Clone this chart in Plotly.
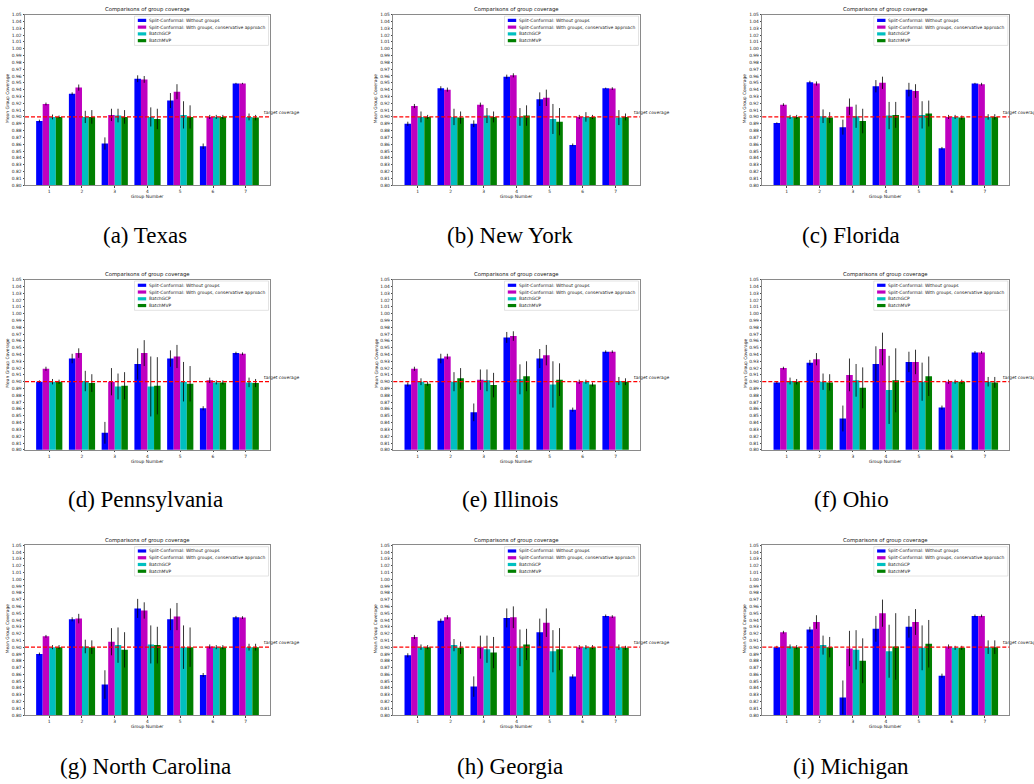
import plotly.graph_objects as go

# ---- data -----------------------------------------------------------------
groups = [1, 2, 3, 4, 5, 6, 7]
methods = [
    "Split-Conformal: Without groups",
    "Split-Conformal: With groups, conservative approach",
    "BatchGCP",
    "BatchMVP",
]
method_colors = ["#0000ff", "#bf00bf", "#00bfbf", "#008000"]
target = 0.90

# rows: methods (in the order above); columns: groups 1..7
tx_mean = [[0.894, 0.934, 0.861, 0.956, 0.924, 0.857, 0.949],
           [0.919, 0.943, 0.903, 0.955, 0.937, 0.900, 0.949],
           [0.900, 0.900, 0.902, 0.900, 0.903, 0.900, 0.900],
           [0.900, 0.900, 0.900, 0.897, 0.900, 0.900, 0.899]]
tx_err = [[0.002, 0.002, 0.009, 0.005, 0.011, 0.004, 0.001],
          [0.002, 0.0045, 0.009, 0.005, 0.011, 0.003, 0.001],
          [0.0035, 0.009, 0.010, 0.014, 0.020, 0.003, 0.005],
          [0.002, 0.010, 0.010, 0.015, 0.017, 0.003, 0.004]]

ny_mean = [[0.890, 0.942, 0.890, 0.959, 0.926, 0.859, 0.942],
           [0.916, 0.940, 0.918, 0.961, 0.928, 0.900, 0.9415],
           [0.900, 0.900, 0.902, 0.900, 0.897, 0.900, 0.899],
           [0.900, 0.899, 0.900, 0.902, 0.893, 0.900, 0.900]]
ny_err = [[0.003, 0.003, 0.005, 0.003, 0.010, 0.002, 0.001],
          [0.003, 0.003, 0.003, 0.003, 0.012, 0.003, 0.002],
          [0.008, 0.012, 0.011, 0.013, 0.022, 0.007, 0.011],
          [0.003, 0.009, 0.008, 0.015, 0.020, 0.003, 0.005]]

fl_mean = [[0.891, 0.951, 0.885, 0.945, 0.940, 0.854, 0.949],
           [0.918, 0.949, 0.915, 0.950, 0.938, 0.900, 0.948],
           [0.900, 0.901, 0.901, 0.902, 0.903, 0.900, 0.900],
           [0.900, 0.899, 0.894, 0.903, 0.905, 0.899, 0.900]]
fl_err = [[0.001, 0.002, 0.011, 0.009, 0.010, 0.002, 0.001],
          [0.002, 0.003, 0.012, 0.009, 0.010, 0.003, 0.002],
          [0.003, 0.010, 0.017, 0.020, 0.020, 0.003, 0.004],
          [0.003, 0.008, 0.018, 0.019, 0.019, 0.003, 0.004]]

pa_mean = [[0.900, 0.934, 0.825, 0.926, 0.934, 0.861, 0.942],
           [0.919, 0.942, 0.900, 0.942, 0.937, 0.902, 0.941],
           [0.900, 0.901, 0.893, 0.893, 0.900, 0.899, 0.899],
           [0.900, 0.898, 0.894, 0.894, 0.897, 0.899, 0.898]]
pa_err = [[0.002, 0.007, 0.016, 0.023, 0.012, 0.003, 0.002],
          [0.003, 0.007, 0.020, 0.019, 0.017, 0.004, 0.002],
          [0.004, 0.015, 0.019, 0.044, 0.029, 0.003, 0.007],
          [0.003, 0.013, 0.020, 0.042, 0.026, 0.003, 0.006]]

il_mean = [[0.896, 0.934, 0.855, 0.965, 0.934, 0.859, 0.944],
           [0.919, 0.937, 0.903, 0.967, 0.939, 0.900, 0.944],
           [0.900, 0.900, 0.902, 0.9035, 0.896, 0.900, 0.901],
           [0.897, 0.905, 0.895, 0.908, 0.903, 0.896, 0.900]]
il_err = [[0.003, 0.007, 0.013, 0.008, 0.014, 0.003, 0.002],
          [0.003, 0.004, 0.015, 0.007, 0.015, 0.003, 0.002],
          [0.005, 0.014, 0.016, 0.022, 0.034, 0.003, 0.006],
          [0.003, 0.015, 0.018, 0.022, 0.024, 0.003, 0.005]]

oh_mean = [[0.899, 0.928, 0.846, 0.926, 0.929, 0.862, 0.943],
           [0.920, 0.933, 0.910, 0.948, 0.929, 0.900, 0.943],
           [0.901, 0.900, 0.902, 0.888, 0.900, 0.900, 0.900],
           [0.900, 0.899, 0.891, 0.902, 0.908, 0.900, 0.899]]
oh_err = [[0.002, 0.004, 0.019, 0.026, 0.015, 0.003, 0.002],
          [0.002, 0.009, 0.024, 0.024, 0.018, 0.003, 0.002],
          [0.005, 0.012, 0.024, 0.050, 0.028, 0.003, 0.007],
          [0.004, 0.012, 0.030, 0.047, 0.029, 0.003, 0.008]]

nc_mean = [[0.890, 0.941, 0.845, 0.957, 0.941, 0.859, 0.944],
           [0.916, 0.942, 0.908, 0.954, 0.945, 0.901, 0.9435],
           [0.900, 0.901, 0.903, 0.904, 0.900, 0.900, 0.900],
           [0.900, 0.900, 0.896, 0.903, 0.900, 0.900, 0.900]]
nc_err = [[0.002, 0.003, 0.021, 0.014, 0.016, 0.003, 0.002],
          [0.002, 0.007, 0.020, 0.012, 0.020, 0.003, 0.002],
          [0.003, 0.010, 0.026, 0.028, 0.032, 0.003, 0.005],
          [0.003, 0.010, 0.026, 0.027, 0.029, 0.003, 0.005]]

ga_mean = [[0.888, 0.939, 0.842, 0.943, 0.922, 0.857, 0.946],
           [0.915, 0.944, 0.900, 0.944, 0.936, 0.900, 0.945],
           [0.900, 0.903, 0.897, 0.899, 0.894, 0.900, 0.900],
           [0.900, 0.899, 0.892, 0.904, 0.897, 0.900, 0.899]]
ga_err = [[0.003, 0.003, 0.015, 0.014, 0.020, 0.003, 0.002],
          [0.003, 0.003, 0.017, 0.016, 0.021, 0.003, 0.002],
          [0.004, 0.009, 0.020, 0.027, 0.031, 0.003, 0.004],
          [0.003, 0.009, 0.023, 0.023, 0.031, 0.003, 0.003]]

mi_mean = [[0.900, 0.926, 0.826, 0.927, 0.930, 0.858, 0.946],
           [0.922, 0.937, 0.898, 0.950, 0.937, 0.901, 0.946],
           [0.901, 0.903, 0.896, 0.894, 0.899, 0.899, 0.900],
           [0.900, 0.900, 0.880, 0.901, 0.905, 0.899, 0.900]]
mi_err = [[0.002, 0.004, 0.025, 0.019, 0.016, 0.003, 0.002],
          [0.002, 0.010, 0.026, 0.020, 0.019, 0.003, 0.002],
          [0.003, 0.014, 0.029, 0.039, 0.033, 0.003, 0.010],
          [0.003, 0.015, 0.033, 0.049, 0.035, 0.003, 0.010]]

captions = ["(a) Texas", "(b) New York", "(c) Florida",
            "(d) Pennsylvania", "(e) Illinois", "(f) Ohio",
            "(g) North Carolina", "(h) Georgia", "(i) Michigan"]
panel_data = [(tx_mean, tx_err), (ny_mean, ny_err), (fl_mean, fl_err),
              (pa_mean, pa_err), (il_mean, il_err), (oh_mean, oh_err),
              (nc_mean, nc_err), (ga_mean, ga_err), (mi_mean, mi_err)]

# ---- page geometry (pixels) ---------------------------------------------
W, H = 1034, 784
col_px = [(25.0, 270.0), (393.3, 640.0), (762.3, 1009.3)]
row_px = [(12.7, 184.3), (279.3, 450.7), (546.7, 717.7)]
caption_x = [145, 510, 851]
caption_y = [235, 501, 769]


def px(x):
    return x / W


def py(y):
    return 1 - y / H


SANS = "DejaVu Sans"
SMALL = 4.4
TITLE = 5.3
SPINE = "#8a8a8a"

fig = go.Figure()
layout = dict(
    width=W, height=H,
    margin=dict(l=0, r=0, t=0, b=0),
    paper_bgcolor="white", plot_bgcolor="white",
    barmode="group", bargap=0.2, bargroupgap=0.0,
    showlegend=False,
    font=dict(family=SANS, size=SMALL, color="#222"),
)
annotations = []
shapes = []

for k, (means, errs) in enumerate(panel_data):
    r, c = divmod(k, 3)
    x0, x1 = col_px[c]
    y0, y1 = row_px[r]
    sfx = "" if k == 0 else str(k + 1)
    xa, ya = "x" + sfx, "y" + sfx

    for m in range(4):
        fig.add_trace(go.Bar(
            x=groups, y=means[m], name=methods[m],
            marker=dict(color=method_colors[m], line=dict(width=0)),
            error_y=dict(type="data", array=errs[m], visible=True,
                         color="rgba(0,0,0,0.8)", thickness=1, width=0),
            xaxis=xa, yaxis=ya, showlegend=False,
        ))

    layout["xaxis" + sfx] = dict(
        domain=[px(x0), px(x1)], anchor=ya, range=[0.26, 7.74],
        tickmode="array", tickvals=groups, ticktext=[str(g) for g in groups],
        ticks="outside", ticklen=1.5, tickwidth=0.5, tickcolor="#444",
        tickfont=dict(family=SANS, size=SMALL, color="#222"),
        showline=True, mirror=True, linecolor=SPINE, linewidth=1,
        showgrid=False, zeroline=False, fixedrange=True,
    )
    layout["yaxis" + sfx] = dict(
        domain=[py(y1), py(y0)], anchor=xa, range=[0.80, 1.05],
        tickmode="linear", tick0=0.80, dtick=0.01, tickformat=".2f",
        ticks="outside", ticklen=1.5, tickwidth=0.5, tickcolor="#444",
        tickfont=dict(family=SANS, size=SMALL, color="#222"),
        showline=True, mirror=True, linecolor=SPINE, linewidth=1,
        showgrid=False, zeroline=False, fixedrange=True,
    )

    # target coverage reference line
    shapes.append(dict(type="line", xref=xa + " domain", yref=ya,
                       x0=0, x1=1, y0=target, y1=target,
                       line=dict(color="#ff0000", width=1.2, dash="4px,2px"),
                       layer="above"))
    annotations.append(dict(xref=xa, yref=ya, x=7.5, y=target + 0.0063,
                            text="target coverage", showarrow=False,
                            xanchor="left", yanchor="middle",
                            font=dict(family=SANS, size=SMALL, color="#222")))

    # title and axis labels
    annotations.append(dict(xref="paper", yref="paper",
                            x=px((x0 + x1) / 2), y=py(y0 - 4.7),
                            text="Comparisons of group coverage", showarrow=False,
                            xanchor="center", yanchor="middle",
                            font=dict(family=SANS, size=TITLE, color="#111")))
    annotations.append(dict(xref="paper", yref="paper",
                            x=px((x0 + x1) / 2), y=py(y1 + 11.4),
                            text="Group Number", showarrow=False,
                            xanchor="center", yanchor="middle",
                            font=dict(family=SANS, size=SMALL, color="#222")))
    annotations.append(dict(xref="paper", yref="paper",
                            x=px(x0 - 17.5), y=py((y0 + y1) / 2 - 1.5),
                            text="Mean Group Coverage", showarrow=False,
                            textangle=-90, xanchor="center", yanchor="middle",
                            font=dict(family=SANS, size=SMALL, color="#222")))

    # legend box in the upper right corner of the axes
    box_w, box_h = 134.0, 29.5
    bx1 = x1 - 1.5
    bx0 = bx1 - box_w
    by0 = y0 + 1.5
    by1 = by0 + box_h
    shapes.append(dict(type="rect", xref="paper", yref="paper",
                       x0=px(bx0), x1=px(bx1), y0=py(by1), y1=py(by0),
                       fillcolor="rgba(255,255,255,0.85)",
                       line=dict(color="#d0d0d0", width=0.6), layer="above"))
    for m in range(4):
        cy = by0 + 4.3 + 6.8 * m
        shapes.append(dict(type="rect", xref="paper", yref="paper",
                           x0=px(bx0 + 3.3), x1=px(bx0 + 11.7),
                           y0=py(cy + 1.6), y1=py(cy - 1.6),
                           fillcolor=method_colors[m], line=dict(width=0),
                           layer="above"))
        annotations.append(dict(xref="paper", yref="paper",
                                x=px(bx0 + 14.5), y=py(cy),
                                text=methods[m], showarrow=False,
                                xanchor="left", yanchor="middle",
                                borderpad=0, borderwidth=0,
                                font=dict(family=SANS, size=SMALL, color="#222")))

    # sub-figure caption
    annotations.append(dict(xref="paper", yref="paper",
                            x=px(caption_x[c]), y=py(caption_y[r]),
                            text=captions[k], showarrow=False,
                            xanchor="center", yanchor="middle",
                            font=dict(family="Liberation Serif", size=23,
                                      color="#000")))

layout["annotations"] = annotations
layout["shapes"] = shapes
fig.update_layout(**layout)

fig.write_html("out.html")
